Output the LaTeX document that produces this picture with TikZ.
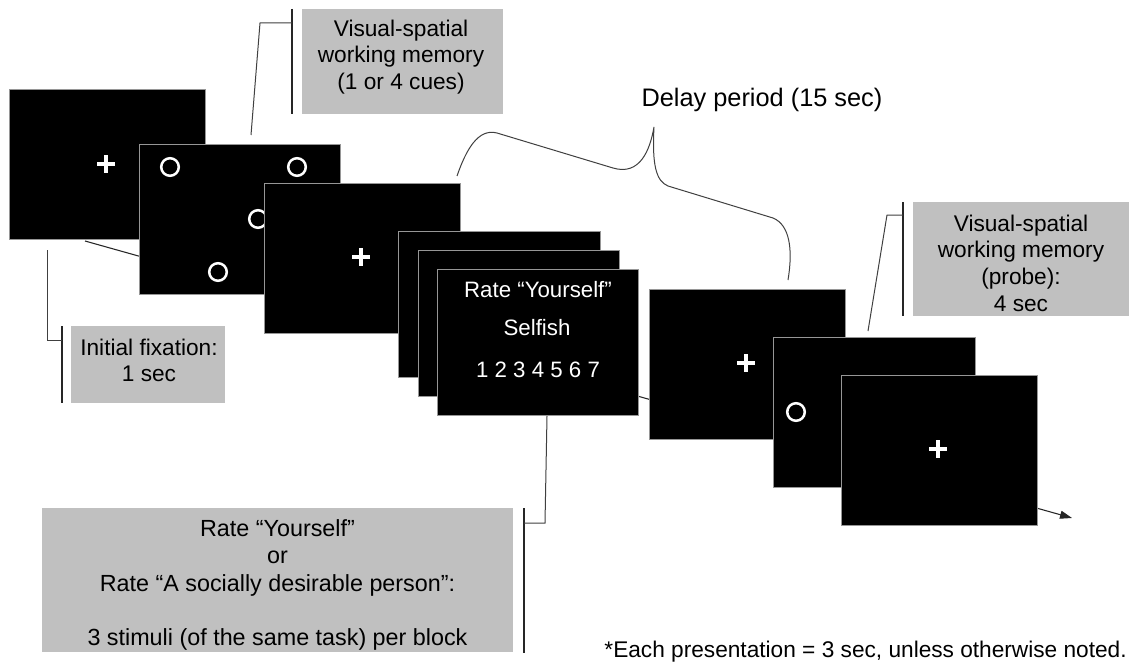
\documentclass[tikz,border=0pt]{standalone}
\usepackage{fontspec}
\setmainfont{Liberation Sans}
\usetikzlibrary{arrows.meta}
\definecolor{boxgray}{RGB}{192,192,192}
\definecolor{scrborder}{RGB}{150,150,150}
\begin{document}
\begin{tikzpicture}[x=0.75pt,y=-0.75pt,
  screen/.style={fill=black,draw=scrborder,line width=0.6pt,inner sep=0pt,outer sep=0pt},
  graybox/.style={fill=boxgray,inner sep=0pt,outer sep=0pt},
  lbl/.style={align=center,inner sep=0pt,font=\fontsize{17}{20}\selectfont},
  scrtxt/.style={text=white,inner sep=0pt,font=\fontsize{16.7}{20}\selectfont},
  barline/.style={line width=0.9pt,black!85},
  conn/.style={line width=0.75pt,black!75},
  wring/.style={white,line width=1.9pt},
  pplus/.pic={\draw[white,line width=2.5pt] (-9,0)--(9,0) (0,-9)--(0,9);}
]
\useasboundingbox[fill=white] (0,0) rectangle (1136,667);

% timeline behind screens
\coordinate (t0) at (85,241);
\coordinate (t1) at (1072,518);
\draw[line width=0.8pt,black!85,-{Triangle[length=9pt,width=6pt]}] (t0) -- (t1);

% screen 1
\node[screen,minimum width=147pt,minimum height=112.5pt] (s1) at (107,164) {};
\pic at (106,164) {pplus};
% screen 2
\node[screen,minimum width=150.75pt,minimum height=112.5pt] (s2) at (239.5,219) {};
\draw[wring] (170,167) circle[radius=6.6pt];
\draw[wring] (297,167) circle[radius=6.6pt];
\draw[wring] (258,219) circle[radius=6.6pt];
\draw[wring] (218,272) circle[radius=6.6pt];
% screen 3
\node[screen,minimum width=147pt,minimum height=112.5pt] (s3) at (362,258) {};
\pic at (361,257) {pplus};
% stack
\node[screen,minimum width=151.5pt,minimum height=109.5pt] (s4) at (499,304) {};
\node[screen,minimum width=150.75pt,minimum height=109.5pt] (s5) at (518.5,323) {};
\node[screen,minimum width=150.75pt,minimum height=109.5pt] (s6) at (537.5,342) {};
\node[scrtxt] (r1) at (538,290) {Rate “Yourself”};
\node[scrtxt] (r2) at (537,328) {Selfish};
\node[scrtxt] (r3) at (538,370) {1 2 3 4 5 6 7};
% screen 7
\node[screen,minimum width=147pt,minimum height=112.5pt] (s7) at (747,364) {};
\pic at (746,363) {pplus};
% screen 8
\node[screen,minimum width=151.5pt,minimum height=112.5pt] (s8) at (874,412) {};
\draw[wring] (796,412) circle[radius=6.6pt];
% screen 9
\node[screen,minimum width=147pt,minimum height=112.5pt] (s9) at (939,450) {};
\pic at (938,449) {pplus};

% delay brace
\draw[conn] (457,176) .. controls (466,150) and (478,128) .. (497,133)
  -- (613,168) .. controls (640,176) and (650,150) .. (654,127)
  .. controls (652,165) and (656,181) .. (668,186)
  -- (773,218) .. controls (790,225) and (793,250) .. (788,280);
\node[lbl,font=\fontsize{19}{22}\selectfont] (delay) at (762,100) {Delay period (15 sec)};

% box A
\node[graybox,minimum width=150.75pt,minimum height=78.75pt] (A) at (402.5,61.5) {};
\node[lbl] (Atxt) at (401,57) {Visual-spatial\\working memory\\(1 or 4 cues)};
\draw[barline] (292,9) -- (292,114);
\coordinate (a1) at (292,23);
\coordinate (a2) at (260,23);
\coordinate (a3) at (251,135);
\draw[conn] (a1) -- (a2) -- (a3);

% box B
\node[graybox,minimum width=115.5pt,minimum height=57.75pt] (B) at (148,364.5) {};
\node[lbl] (Btxt) at (149,360.5) {Initial fixation:\\1 sec};
\draw[barline] (62,326) -- (62,403);
\coordinate (b1) at (62,340);
\coordinate (b2) at (47,340);
\coordinate (b3) at (47,250);
\draw[conn] (b1) -- (b2) -- (b3);

% box C
\node[graybox,minimum width=162pt,minimum height=85.5pt] (C) at (1021,259) {};
\node[lbl] (Ctxt) at (1021,263) {Visual-spatial\\working memory\\(probe):\\4 sec};
\draw[barline] (903,202) -- (903,316);
\coordinate (c1) at (903,215);
\coordinate (c2) at (887,215);
\coordinate (c3) at (868,331);
\draw[conn] (c1) -- (c2) -- (c3);

% box D
\node[graybox,minimum width=353.25pt,minimum height=108pt] (D) at (277.5,580) {};
\node[lbl,font=\fontsize{17.5}{20.6}\selectfont] (Dtxt) at (277.5,585)
  {Rate “Yourself”\\or\\Rate “A socially desirable person”:\\[20.6pt]3 stimuli (of the same task) per block};
\draw[barline] (524,508) -- (524,653);
\coordinate (d1) at (524,523);
\coordinate (d2) at (545,523);
\coordinate (d3) at (547,416);
\draw[conn] (d1) -- (d2) -- (d3);

% footnote
\node[lbl,anchor=east] (fn) at (1127,652) {*Each presentation = 3 sec, unless otherwise noted.};
\end{tikzpicture}
\end{document}
